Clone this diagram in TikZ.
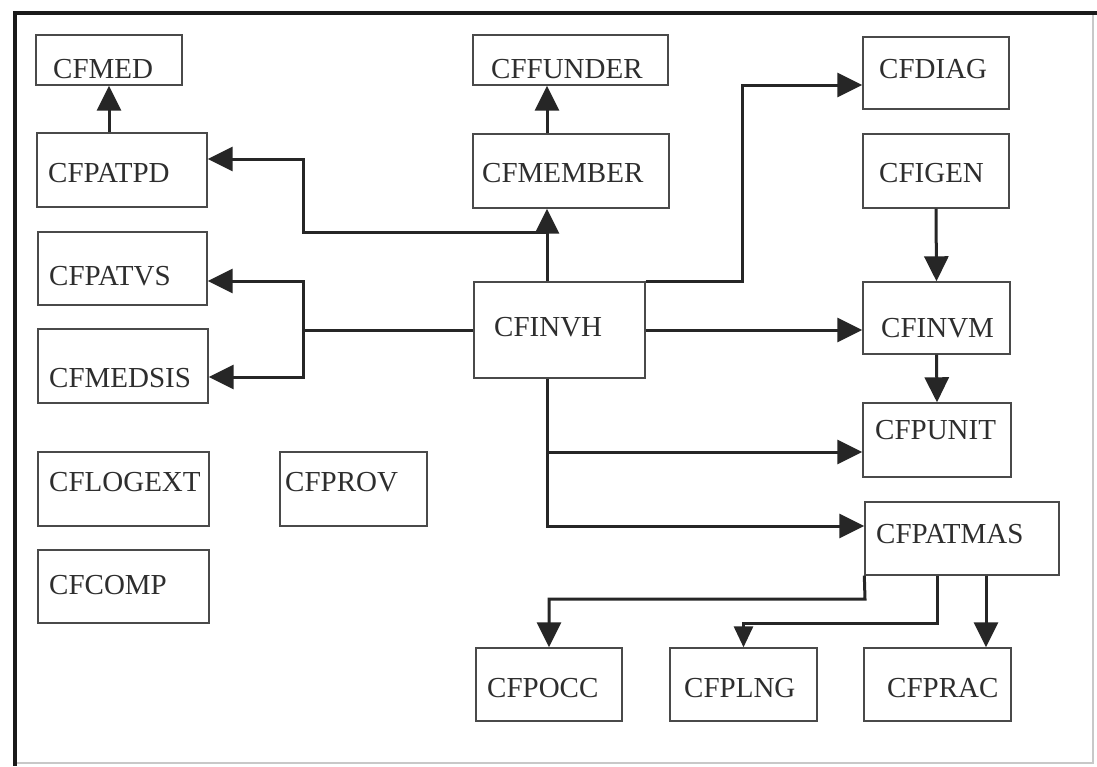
\documentclass[tikz,border=0pt]{standalone}
\usepackage{fontspec}
\setmainfont{Liberation Serif}
\usetikzlibrary{arrows.meta,fit}
\definecolor{boxcol}{HTML}{4A4A4A}
\definecolor{txtcol}{HTML}{2E2E2E}
\definecolor{wirecol}{HTML}{262626}
\definecolor{framecol}{HTML}{1A1A1A}
\definecolor{edgecol}{HTML}{C8C8C8}
\newcommand{\mkbox}[8]{%
  \node[box, fit={(#2,#3) (#4,#5)}] (#1) {};
  \node[lbl] (#1-t) at (#6,#7) {#8};}
\begin{document}
\begin{tikzpicture}[x=1pt,y=-1pt,
  box/.style={draw=boxcol, line width=1.4pt, inner sep=0pt},
  lbl/.style={font=\fontsize{29}{34}\selectfont, text=txtcol, inner sep=0pt, anchor=base west},
  wire/.style={draw=wirecol, line width=3pt},
  conn/.style={wire, -{Triangle[length=25pt,width=24pt]}},
  smallconn/.style={wire, -{Triangle[length=21pt,width=19pt]}}]
\useasboundingbox (0,0) rectangle (1097,766);
\fill[white] (0,0) rectangle (1097,766);
% frame
\draw[edgecol, line width=1.5pt] (15,763) -- (1093,763) -- (1093,13);
\draw[framecol, line width=4pt] (1097,13) -- (15,13) -- (15,766);
% boxes
\mkbox{cfmed}{36}{35}{182}{85}{53}{78}{CFMED}
\mkbox{cfpatpd}{37}{133}{207}{207}{48}{182}{CFPATPD}
\mkbox{cffunder}{473}{35}{668}{85}{491}{78}{CFFUNDER}
\mkbox{cfmember}{473}{134}{669}{208}{482}{182}{CFMEMBER}
\mkbox{cfdiag}{863}{37}{1009}{109}{879}{78}{CFDIAG}
\mkbox{cfigen}{863}{134}{1009}{208}{879}{182}{CFIGEN}
\mkbox{cfpatvs}{38}{232}{207}{305}{49}{285}{CFPATVS}
\mkbox{cfmedsis}{38}{329}{208}{403}{49}{387}{CFMEDSIS}
\mkbox{cfinvh}{474}{282}{645}{378}{494}{336}{CFINVH}
\mkbox{cfinvm}{863}{282}{1010}{354}{881}{337}{CFINVM}
\mkbox{cfpunit}{863}{403}{1011}{477}{875}{439}{CFPUNIT}
\mkbox{cfpatmas}{865}{502}{1059}{575}{876}{543}{CFPATMAS}
\mkbox{cflogext}{38}{452}{209}{526}{49}{491}{CFLOGEXT}
\mkbox{cfprov}{280}{452}{427}{526}{285}{491}{CFPROV}
\mkbox{cfcomp}{38}{550}{209}{623}{49}{594}{CFCOMP}
\mkbox{cfpocc}{476}{648}{622}{721}{487}{697}{CFPOCC}
\mkbox{cfplng}{670}{648}{817}{721}{684}{697}{CFPLNG}
\mkbox{cfprac}{864}{648}{1011}{721}{887}{697}{CFPRAC}
% junction coordinates
\coordinate (sx) at (547,0);
\coordinate (pj) at (303,232);
\coordinate (pa) at (303,159);
\coordinate (bj) at (303,330);
\coordinate (bt) at (303,281);
\coordinate (bb) at (303,377);
\coordinate (dj) at (742,85);
\coordinate (uj) at (547,452);
\coordinate (mj) at (547,526);
\coordinate (oj) at (865,599);
\coordinate (lj) at (937,623);
\coordinate (rj) at (986,0);
% connectors
\draw[conn] (cfmed.south |- cfpatpd.north) -- (cfmed.south);
\draw[conn] (cfinvh.north -| sx) -- (cfmember.south -| sx);
\draw[conn] (cfmember.north -| sx) -- (cffunder.south -| sx);
\draw[conn] (sx |- pj) -- (pj) -- (pa) -- (cfpatpd.east |- pa);
\draw[wire] (cfinvh.west) -- (bj);
\draw[conn] (bj) -- (bt) -- (cfpatvs.east |- bt);
\draw[conn] (bj) -- (bb) -- (cfmedsis.east |- bb);
\draw[conn] (cfinvh.north east) -- (dj |- cfinvh.north east) -- (dj) -- (cfdiag.west |- dj);
\draw[conn] (cfinvh.east) -- (cfinvm.west |- cfinvh.east);
\draw[conn] (cfigen.south) -- (cfinvm.north);
\draw[conn] (cfinvm.south) -- (cfpunit.north);
\draw[conn] (cfinvh.south -| sx) -- (mj) -- (cfpatmas.west |- mj);
\draw[conn] (uj) -- (cfpunit.west |- uj);
\draw[conn] (cfpatmas.south west) -- (oj) -- (cfpocc.north |- oj) -- (cfpocc.north);
\draw[smallconn] (cfpatmas.south -| lj) -- (lj) -- (cfplng.north |- lj) -- (cfplng.north);
\draw[conn] (cfpatmas.south -| rj) -- (cfprac.north -| rj);
\end{tikzpicture}
\end{document}
